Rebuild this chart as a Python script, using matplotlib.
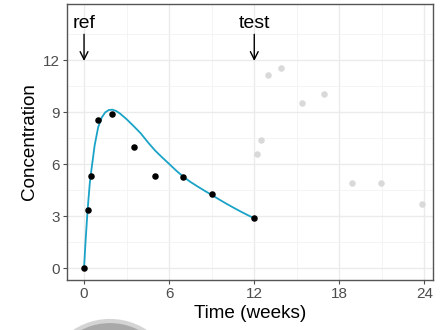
import matplotlib
matplotlib.use("Agg")
import matplotlib.pyplot as plt
from matplotlib.patches import Circle

plt.rcParams['font.family'] = ['Liberation Sans', 'DejaVu Sans']

# Reference (fitted) observations
ref_time = [0, 0.25, 0.5, 1, 2, 3.5, 5, 7, 9, 12]
ref_conc = [0, 3.35, 5.35, 8.55, 8.9, 7.0, 5.3, 5.25, 4.3, 2.9]

# Test observations (greyed)
test_time = [12.2, 12.45, 12.95, 13.9, 15.4, 16.9, 18.9, 20.9, 23.8]
test_conc = [6.6, 7.4, 11.15, 11.55, 9.55, 10.05, 4.9, 4.9, 3.7]

# Fitted curve
fit_time = [0, 0.1, 0.25, 0.4, 0.5, 0.75, 1, 1.25, 1.5, 1.75, 2, 2.25, 2.5, 3, 3.5, 4,
            4.5, 5, 5.5, 6, 6.5, 7, 7.5, 8, 8.5, 9, 9.5, 10, 10.5, 11, 11.5, 12]
fit_conc = [0, 1.45, 3.35, 4.85, 5.55, 7.1, 8.15, 8.7, 9.0, 9.13, 9.15, 9.08, 8.95, 8.6,
            8.2, 7.78, 7.27, 6.8, 6.4, 6.02, 5.63, 5.28, 4.98, 4.72, 4.47, 4.23, 3.98,
            3.74, 3.51, 3.29, 3.08, 2.88]

x_ticks = [0, 6, 12, 18, 24]
y_ticks = [0, 3, 6, 9, 12]
annot_labels = ["ref", "test"]
annot_x = [0, 12]

fig = plt.figure(figsize=(4.4, 3.3), dpi=100)
fig.patch.set_facecolor('white')

# faint background disk (slide artifact)
disk = Circle((110, -56), 65, transform=None, facecolor='#a9a9a9',
              edgecolor='#d4d4d4', linewidth=3, zorder=0)
fig.patches.append(disk)

ax = fig.add_axes([0.1523, 0.1515, 0.8318, 0.8365])
ax.set_facecolor('white')

ax.set_xlim(-1.2, 24.6)
ax.set_ylim(-0.68, 15.25)

ax.set_xticks(x_ticks)
ax.set_yticks(y_ticks)
ax.set_xticks([3, 9, 15, 21], minor=True)
ax.set_yticks([1.5, 4.5, 7.5, 10.5, 13.5], minor=True)
ax.grid(which='major', color='#ebebeb', linewidth=1.0)
ax.grid(which='minor', color='#f3f3f3', linewidth=0.6)
ax.set_axisbelow(True)
ax.tick_params(which='minor', length=0)
ax.tick_params(which='major', length=3, width=0.8, color='#4d4d4d',
               labelcolor='#4d4d4d', labelsize=11, pad=2)
for s in ax.spines.values():
    s.set_color('#555555')
    s.set_linewidth(1.0)

ax.scatter(test_time, test_conc, s=22, color='#d9d9d9', linewidths=0, zorder=3)
ax.plot(fit_time, fit_conc, color='#1aa3c7', linewidth=1.3, zorder=4)
ax.scatter(ref_time, ref_conc, s=22, color='black', linewidths=0, zorder=5)

for lab, xv in zip(annot_labels, annot_x):
    ax.annotate('', xy=(xv, 11.96), xytext=(xv, 13.5),
                arrowprops=dict(arrowstyle='->', color='black', lw=1.0,
                                mutation_scale=14, shrinkA=0, shrinkB=0))
    ax.text(xv, 13.85, lab, ha='center', va='baseline', fontsize=14, color='black')

ax.set_xlabel('Time (weeks)', fontsize=13.6, color='black', labelpad=3)
ax.set_ylabel('Concentration', fontsize=13.6, color='black', labelpad=4)

fig.savefig('out.png', dpi=100)
